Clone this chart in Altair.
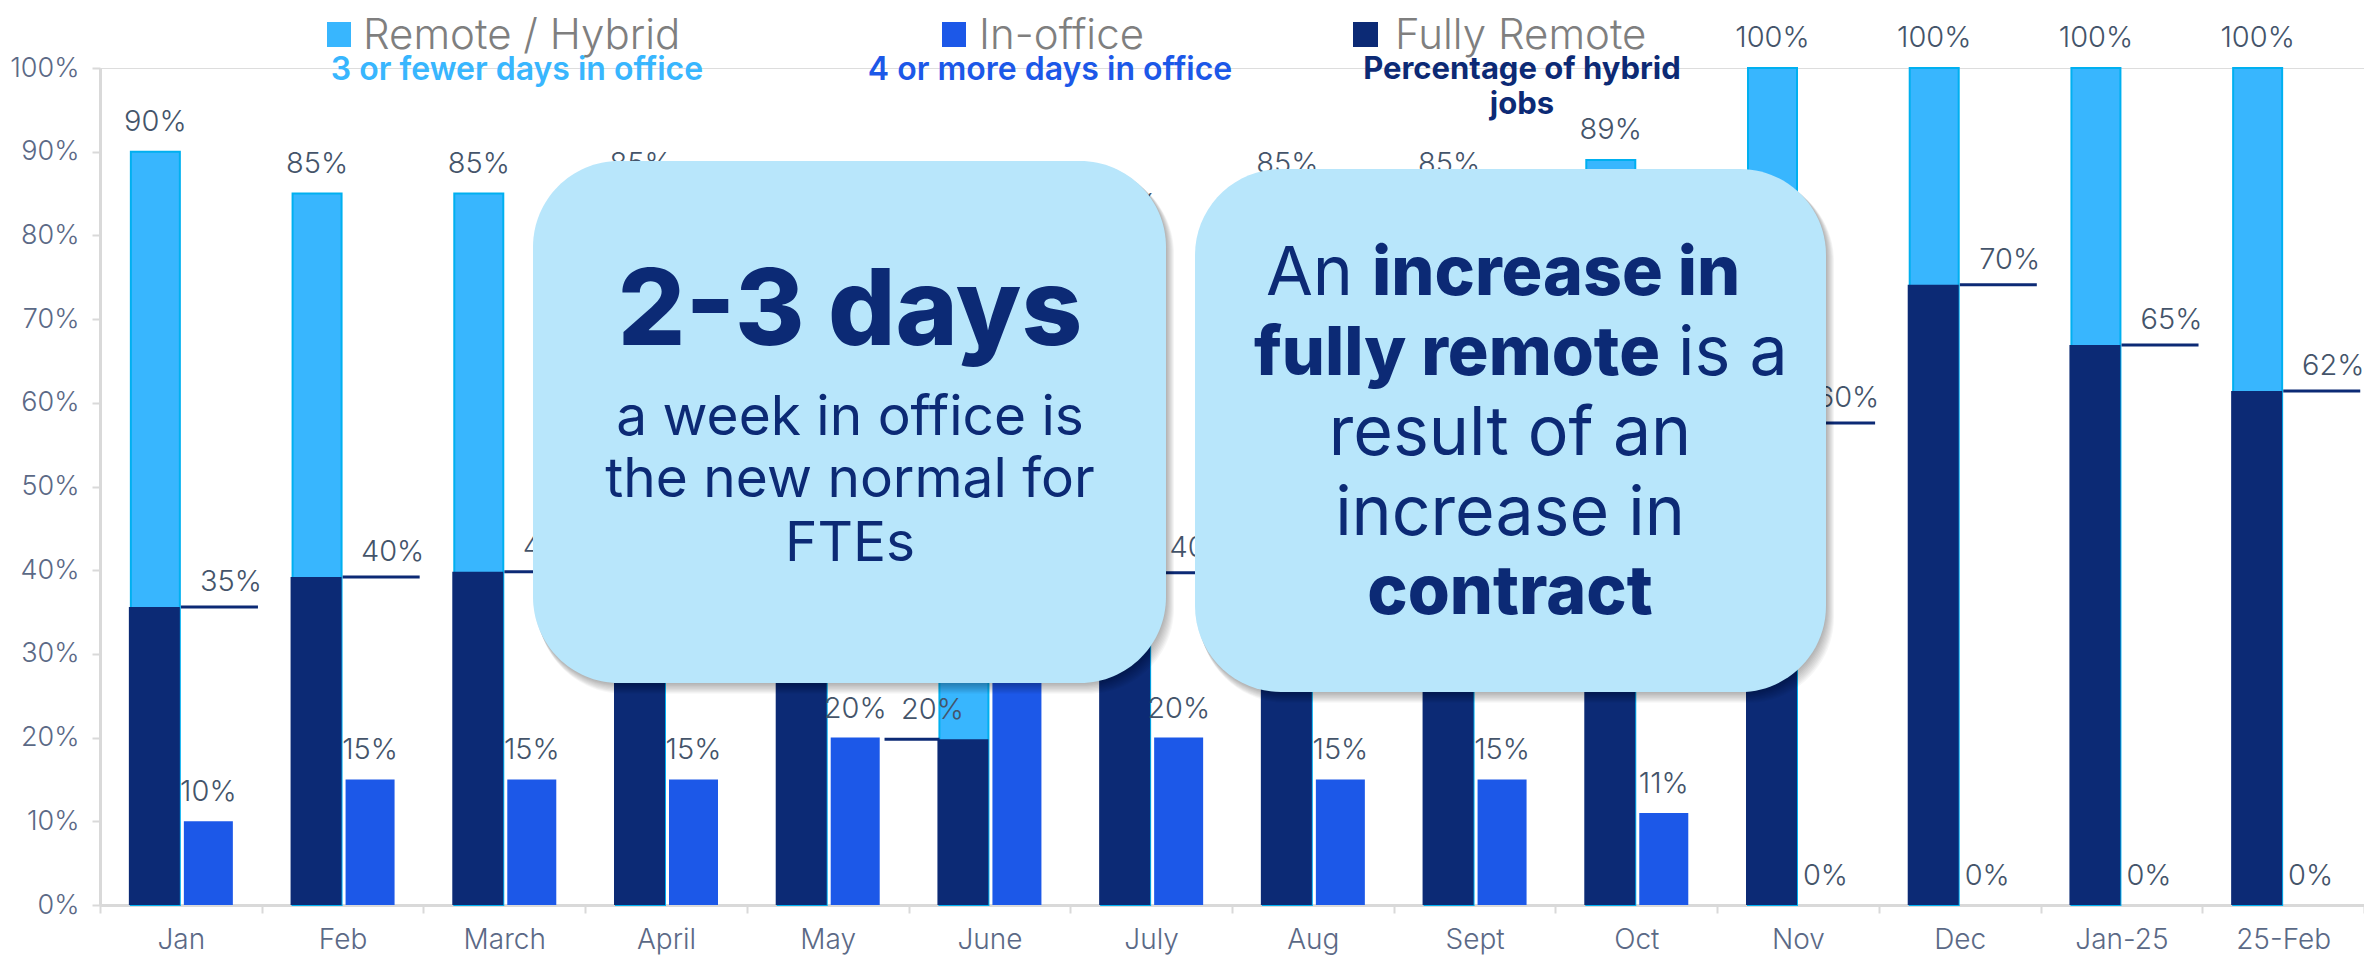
import altair as alt
import pandas as pd

# ---------------- data ----------------
months = ["Jan", "Feb", "March", "April", "May", "June", "July", "Aug",
          "Sept", "Oct", "Nov", "Dec", "Jan-25", "25-Feb"]
hybrid = [0.90, 0.85, 0.85, 0.85, 0.80, 0.70, 0.80, 0.85, 0.85, 0.89,
          1.00, 1.00, 1.00, 1.00]
hybrid_labels = ["90%", "85%", "85%", "85%", "80%", "70%", "80%", "85%",
                 "85%", "89%", "100%", "100%", "100%", "100%"]
in_office = [0.10, 0.15, 0.15, 0.15, 0.20, 0.30, 0.20, 0.15, 0.15, 0.11,
             0.0, 0.0, 0.0, 0.0]
in_office_labels = ["10%", "15%", "15%", "15%", "20%", "30%", "20%", "15%",
                    "15%", "11%", "0%", "0%", "0%", "0%"]
fully_remote = [0.356, 0.392, 0.398, 0.40, 0.35, 0.198, 0.397, 0.45, 0.50,
                0.55, 0.576, 0.741, 0.669, 0.614]
fully_remote_labels = ["35%", "40%", "40%", "40%", "35%", "20%", "40%", "45%",
                       "50%", "55%", "60%", "70%", "65%", "62%"]
y_ticks = [0, 0.1, 0.2, 0.3, 0.4, 0.5, 0.6, 0.7, 0.8, 0.9, 1.0]

df = pd.DataFrame({
    "month": months,
    "hybrid": hybrid,
    "hybrid_label": hybrid_labels,
    "office": in_office,
    "office_label": in_office_labels,
    "fr": fully_remote,
    "fr_label": fully_remote_labels,
})

# ---------------- style ----------------
FONT = "Inter"
LIGHT = "#38B6FE"
LIGHT_EDGE = "#00B0F0"
NAVY = "#0C2A75"
ROYAL = "#1C58E8"
BOX = "#B8E6FB"
LABEL = "#44546A"
AXIS_TXT = "#5B6986"
GRID = "#D9D9D9"

W, H = 2264, 837

xaxis = alt.Axis(title=None, labelAngle=0, tickBand="extent", labelFont=FONT,
                 labelFontSize=28, labelFontWeight=300, labelColor=AXIS_TXT,
                 labelPadding=13, domainColor=GRID, domainWidth=3,
                 tickColor=GRID, tickWidth=2, tickSize=8, grid=False)
yaxis = alt.Axis(title=None, format=".0%", values=y_ticks, labelFont=FONT,
                 labelFontSize=27, labelFontWeight=300, labelColor=AXIS_TXT,
                 labelPadding=13, domainColor=GRID, domainWidth=3,
                 tickColor=GRID, tickWidth=2, tickSize=8, grid=False)

xenc = alt.X("month:N", sort=months,
             scale=alt.Scale(paddingInner=0, paddingOuter=0), axis=xaxis)
yscale = alt.Scale(domain=[0, 1], nice=False)


def Y(field):
    return alt.Y(f"{field}:Q", scale=yscale, axis=yaxis, stack=None)


base = alt.Chart(df)

light = base.mark_bar(width=49, xOffset=-25.5, color=LIGHT, stroke=LIGHT_EDGE,
                      strokeWidth=2).encode(x=xenc, y=Y("hybrid"))
navy = base.mark_bar(width=51, xOffset=-26.5, color=NAVY).encode(x=xenc, y=Y("fr"))
office = base.mark_bar(width=49, xOffset=27.5, color=ROYAL).encode(x=xenc, y=Y("office"))

not_june = alt.datum.month != "June"
is_june = alt.datum.month == "June"

lead = base.transform_filter(not_june).mark_tick(
    size=77, thickness=3, xOffset=38.6, color=NAVY, opacity=1).encode(x=xenc, y=Y("fr"))
lead_june = base.transform_filter(is_june).mark_tick(
    size=55, thickness=3, xOffset=-77.4, color=NAVY, opacity=1).encode(x=xenc, y=Y("fr"))

lbl = dict(font=FONT, fontSize=29, fontWeight=300, color=LABEL,
           baseline="middle", align="center")
hyb_txt = base.mark_text(dx=-25.5, dy=-30, **lbl).encode(
    x=xenc, y=Y("hybrid"), text="hybrid_label:N")
off_txt = base.mark_text(dx=27.5, dy=-29, **lbl).encode(
    x=xenc, y=Y("office"), text="office_label:N")
fr_txt = base.transform_filter(not_june).mark_text(dx=50, dy=-25, **lbl).encode(
    x=xenc, y=Y("fr"), text="fr_label:N")
fr_txt_june = base.transform_filter(is_june).mark_text(dx=-57, dy=-29, **lbl).encode(
    x=xenc, y=Y("fr"), text="fr_label:N")

# ---------------- annotations ----------------
one = pd.DataFrame({"k": [0]})


def text(s, x, y, size, weight, color, align="center"):
    return alt.Chart(one).mark_text(
        font=FONT, fontSize=size, fontWeight=weight, color=color,
        align=align, baseline="alphabetic").encode(
        x=alt.value(x), y=alt.value(y), text=alt.value(s))


def rect(x1, x2, y1, y2, color, radius=0, opacity=1.0):
    return alt.Chart(one).mark_rect(
        color=color, cornerRadius=radius, opacity=opacity).encode(
        x=alt.value(x1), x2=alt.value(x2), y=alt.value(y1), y2=alt.value(y2))


def box(x1, x2, y1, y2):
    layers = []
    for i in range(1, 10):
        layers.append(rect(x1 + i * 0.5, x2 + i * 0.9, y1 + i * 0.8, y2 + i * 1.2,
                           "#000000", 86, 0.035))
    layers.append(rect(x1, x2, y1, y2, BOX, 86))
    return layers


ann = []
ann += box(433, 1066, 93, 615)
ann += box(1095, 1726, 101, 624)

# box 1 text
ann.append(text("2-3 days", 750, 277, 106, 800, NAVY))
ann.append(text("a week in office is", 750, 367, 55, 400, NAVY))
ann.append(text("the new normal for", 750, 429, 55, 400, NAVY))
ann.append(text("FTEs", 750, 493, 55, 400, NAVY))

# box 2 text
ann.append(text("An", 1253, 227, 68, 400, NAVY, align="right"))
ann.append(text("increase in", 1272, 227, 68, 800, NAVY, align="left"))
ann.append(text("fully remote", 1560, 307, 68, 800, NAVY, align="right"))
ann.append(text("is a", 1578, 307, 68, 400, NAVY, align="left"))
ann.append(text("result of an", 1410, 387, 68, 400, NAVY))
ann.append(text("increase in", 1410, 467, 68, 400, NAVY))
ann.append(text("contract", 1410, 546, 68, 800, NAVY))

# legend
ann.append(rect(227, 251, -46, -21, LIGHT))
ann.append(text("Remote / Hybrid", 263, -19, 42, 300, "#7F7F7F", align="left"))
ann.append(text("3 or fewer days in office", 417, 12, 32, 600, LIGHT))

ann.append(rect(842, 866, -46, -21, ROYAL))
ann.append(text("In-office", 879, -19, 42, 300, "#7F7F7F", align="left"))
ann.append(text("4 or more days in office", 950, 12, 32, 600, ROYAL))

ann.append(rect(1253, 1278, -46, -21, NAVY))
ann.append(text("Fully Remote", 1295, -19, 42, 300, "#7F7F7F", align="left"))
ann.append(text("Percentage of hybrid", 1422, 11, 31, 700, NAVY))
ann.append(text("jobs", 1422, 46, 31, 700, NAVY))

chart = alt.layer(
    light, navy, office, lead, lead_june, hyb_txt, off_txt, fr_txt, fr_txt_june,
    *ann
).properties(
    width=W, height=H,
    padding={"left": 92, "top": 60, "right": 0, "bottom": 52},
    autosize=alt.AutoSizeParams(type="none"),
).configure_view(stroke=None).configure(background="white")

chart.save("out.html", embed_options={"renderer": "svg", "actions": False})
